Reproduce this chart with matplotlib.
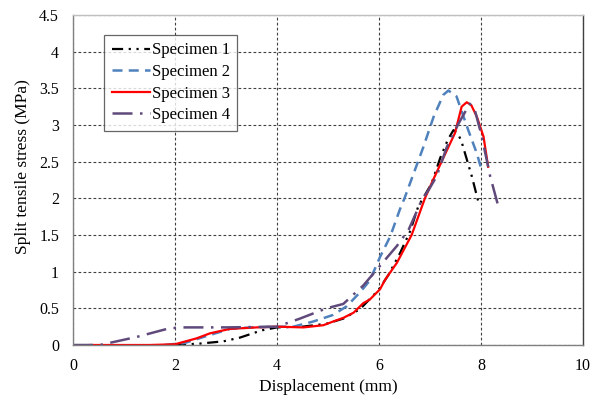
import matplotlib
matplotlib.use("Agg")
import matplotlib.pyplot as plt

plt.rcParams['font.family'] = ['Liberation Serif', 'DejaVu Serif']

s1_x = [2.0, 2.5, 2.95, 3.27, 3.7, 4.0, 4.5, 4.97, 5.3, 5.63, 5.99, 6.18, 6.41, 6.61, 6.77, 7.03, 7.2, 7.35, 7.46, 7.55, 7.62, 7.82, 7.96]
s1_y = [0.0, 0.02, 0.05, 0.10, 0.20, 0.24, 0.25, 0.29, 0.36, 0.49, 0.75, 0.95, 1.25, 1.55, 1.89, 2.2, 2.55, 2.8, 2.93, 2.88, 2.77, 2.30, 1.92]

s2_x = [1.8, 2.2, 2.56, 3.08, 3.5, 4.0, 4.32, 4.71, 5.1, 5.37, 5.63, 5.82, 6.02, 6.22, 6.41, 6.5, 6.87, 7.07, 7.26, 7.36, 7.52, 7.75, 7.92, 8.01]
s2_y = [0.0, 0.03, 0.11, 0.22, 0.24, 0.25, 0.25, 0.32, 0.41, 0.53, 0.72, 0.88, 1.2, 1.48, 1.85, 2.0, 2.7, 3.11, 3.41, 3.47, 3.39, 2.93, 2.61, 2.39]

s3_x = [0.33, 1.0, 1.5, 2.0, 2.42, 2.69, 3.08, 3.6, 4.0, 4.52, 4.91, 5.1, 5.3, 5.5, 5.69, 5.82, 6.02, 6.12, 6.35, 6.64, 6.90, 7.06, 7.26, 7.49, 7.62, 7.72, 7.81, 7.92, 8.05, 8.14]
s3_y = [0.0, 0.0, 0.0, 0.01, 0.09, 0.16, 0.22, 0.24, 0.25, 0.24, 0.27, 0.32, 0.37, 0.44, 0.57, 0.62, 0.76, 0.89, 1.12, 1.5, 2.0, 2.25, 2.55, 2.89, 3.25, 3.31, 3.27, 3.11, 2.84, 2.43]

s4_x = [0.0, 0.53, 1.25, 1.9, 2.2, 3.0, 4.0, 4.45, 4.97, 5.3, 5.69, 6.02, 6.35, 6.58, 6.84, 6.97, 7.13, 7.33, 7.56, 7.78, 7.88, 8.01, 8.18, 8.34]
s4_y = [0.0, 0.0, 0.11, 0.23, 0.24, 0.24, 0.25, 0.36, 0.5, 0.56, 0.81, 1.08, 1.35, 1.57, 1.98, 2.11, 2.30, 2.70, 3.02, 3.29, 3.2, 2.86, 2.30, 1.89]

labels = ['Specimen 1', 'Specimen 2', 'Specimen 3', 'Specimen 4']
x_ticks = [0, 2, 4, 6, 8, 10]
y_ticks = [0, 0.5, 1, 1.5, 2, 2.5, 3, 3.5, 4, 4.5]
y_tick_labels = ['0', '0.5', '1', '1.5', '2', '2.5', '3', '3.5', '4', '4.5']

fig = plt.figure(figsize=(6.04, 3.99), dpi=100)
ax = fig.add_axes([73/604, 1-345/399, 510/604, 330/399])

ax.plot(s1_x, s1_y, color='black', lw=1.6, linestyle=(0, (5, 2.5, 1, 2.5, 1, 2.5)),
        solid_joinstyle='round', label=labels[0])
ax.plot(s2_x, s2_y, color='#4F81BD', lw=1.8, linestyle=(0, (4, 2.5)),
        solid_joinstyle='round', label=labels[1])
ax.plot(s3_x, s3_y, color='#FF0000', lw=1.6, linestyle='-',
        solid_joinstyle='round', label=labels[2])
ax.plot(s4_x, s4_y, color='#604A7B', lw=1.8, linestyle=(0, (8, 3, 1, 3)),
        solid_joinstyle='round', label=labels[3])

ax.set_xlim(0, 10)
ax.set_ylim(0, 4.5)
ax.set_xticks(x_ticks)
ax.set_yticks(y_ticks)
ax.set_yticklabels(y_tick_labels)
ax.tick_params(axis='y', length=0, labelsize=11.5, pad=10)
ax.tick_params(axis='x', length=0, labelsize=11.5, pad=9)
ax.grid(True, color='#404040', linestyle=(0, (2.5, 2)), lw=0.8)
ax.set_axisbelow(True)

ax.spines['left'].set_color('#808080')
ax.spines['bottom'].set_color('#808080')
ax.spines['top'].set_color('#BFBFBF')
ax.spines['right'].set_color('#404040')
for sp in ax.spines.values():
    sp.set_linewidth(1.0)

ax.set_xlabel('Displacement (mm)', fontsize=12.5)
ax.xaxis.set_label_coords(0.5, -0.103)
ax.set_ylabel('Split tensile stress (MPa)', fontsize=12.5)
ax.yaxis.set_label_coords(-0.082, 0.541)

leg = ax.legend(loc='upper left', bbox_to_anchor=(31/510, 310/330), frameon=True, fancybox=False,
                edgecolor='#404040', fontsize=12, handlelength=2.3, handletextpad=0.1,
                labelspacing=0.33, borderpad=0.45, borderaxespad=0.0)
leg.get_frame().set_linewidth(0.9)

fig.savefig('out.png', dpi=100)
